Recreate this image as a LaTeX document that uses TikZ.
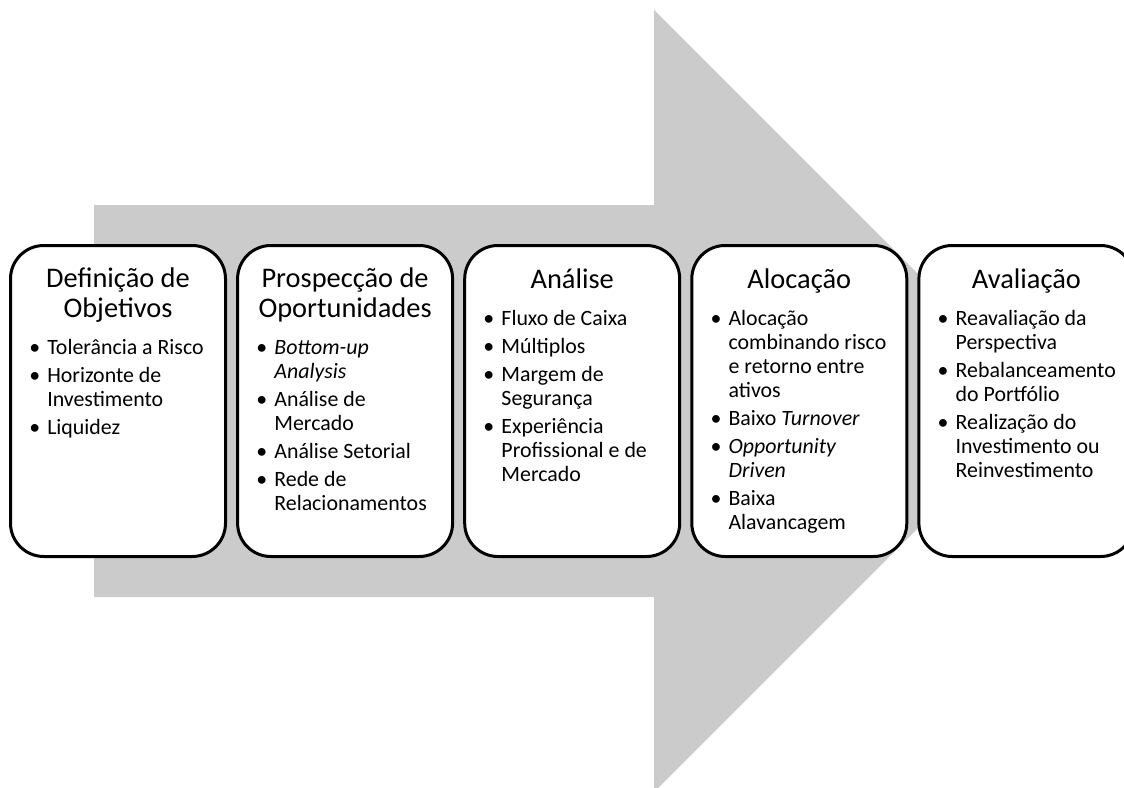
\documentclass[tikz,border=0pt]{standalone}
\usepackage{fontspec}
\setmainfont{Carlito}
\usepackage{xcolor}
\usepackage{tikz}
\usetikzlibrary{positioning}
\definecolor{arrowgray}{RGB}{203,203,203}
\tikzset{
  stagebox/.style={draw=black, line width=2.25pt, rounded corners=25pt, fill=white,
    minimum width=161.25pt, minimum height=233.25pt, inner sep=0pt},
  stagetitle/.style={anchor=base, inner sep=0pt, align=center,
    font=\fontsize{21.3}{22.5}\selectfont},
  stagelist/.style={anchor=base west, inner sep=0pt,
    font=\fontsize{16.4}{18}\selectfont},
}
\newcommand{\blt}{\makebox[13.5pt][l]{\textbullet}}

\begin{document}
\begin{tikzpicture}[x=0.75pt,y=0.75pt,yscale=-1,xscale=1]
\useasboundingbox (0,0) rectangle (1124,788);
\clip (0,0) rectangle (1124,788);

%Shape: Arrow
\fill [arrowgray] (94,205) -- (654,205) -- (654,10) -- (1045,401) -- (654,792) -- (654,597) -- (94,597) -- cycle ;

%Shape: Rounded Rect
\node [stagebox] (defbox) at (118,401) {};
%Shape: Rounded Rect
\node [stagebox] (prosbox) at (345.1,401) {};
%Shape: Rounded Rect
\node [stagebox] (anabox) at (572.2,401) {};
%Shape: Rounded Rect
\node [stagebox] (alocbox) at (799.3,401) {};
%Shape: Rounded Rect
\node [stagebox] (avalbox) at (1026.4,401) {};

% Text Node (base = last line)
\node [stagetitle] (deftitle) at (118,317) {Definição de\\Objetivos};
% Text Node
\node [stagetitle] (prostitle) at (345.1,317) {Prospecção de\\Oportunidades};
% Text Node
\node [stagetitle] (anatitle) at (572.2,288) {Análise};
% Text Node
\node [stagetitle] (aloctitle) at (799.3,288) {Alocação};
% Text Node
\node [stagetitle] (avaltitle) at (1026.4,288) {Avaliação};

% Text Node
\node [stagelist] (defitems) at (29,354) {\begin{tabular}[t]{@{}l@{}l@{}}
\blt & Tolerância a Risco\\[3pt]
\blt & Horizonte de\\
 & Investimento\\[3pt]
\blt & Liquidez
\end{tabular}};
% Text Node
\node [stagelist] (prositems) at (256.1,354) {\begin{tabular}[t]{@{}l@{}l@{}}
\blt & \textit{Bottom-up}\\
 & \textit{Analysis}\\[3pt]
\blt & Análise de\\
 & Mercado\\[3pt]
\blt & Análise Setorial\\[3pt]
\blt & Rede de\\
 & Relacionamentos
\end{tabular}};
% Text Node
\node [stagelist] (anaitems) at (483.2,325) {\begin{tabular}[t]{@{}l@{}l@{}}
\blt & Fluxo de Caixa\\[3pt]
\blt & Múltiplos\\[3pt]
\blt & Margem de\\
 & Segurança\\[3pt]
\blt & Experiência\\
 & Profissional e de\\
 & Mercado
\end{tabular}};
% Text Node
\node [stagelist] (alocitems) at (710.3,325) {\begin{tabular}[t]{@{}l@{}l@{}}
\blt & Alocação\\
 & combinando risco\\
 & e retorno entre\\
 & ativos\\[3pt]
\blt & Baixo \textit{Turnover}\\[3pt]
\blt & \textit{Opportunity}\\
 & \textit{Driven}\\[3pt]
\blt & Baixa\\
 & Alavancagem
\end{tabular}};
% Text Node
\node [stagelist] (avalitems) at (937.4,325) {\begin{tabular}[t]{@{}l@{}l@{}}
\blt & Reavaliação da\\
 & Perspectiva\\[3pt]
\blt & Rebalanceamento\\
 & do Portfólio\\[3pt]
\blt & Realização do\\
 & Investimento ou\\
 & Reinvestimento
\end{tabular}};

\end{tikzpicture}
\end{document}
